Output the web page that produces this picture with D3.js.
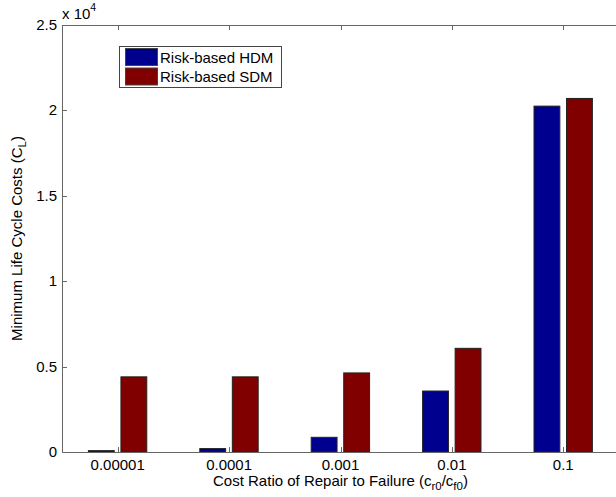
<!DOCTYPE html>
<html>
<head>
<meta charset="utf-8">
<script src="https://cdn.jsdelivr.net/npm/d3@7"></script>
<style>
  body { margin: 0; background: #fff; }
  svg { display: block; }
  text { font-family: "Liberation Sans", Arial, sans-serif; fill: #000; }
</style>
</head>
<body>
<svg id="svg"></svg>
<script>

const width = 616;
const height = 497;

// data (values in raw units, axis shows x 10^4)
const categories = ["0.00001", "0.0001", "0.001", "0.01", "0.1"];
const seriesNames = ["Risk-based HDM", "Risk-based SDM"];
const hdmValues = [80, 200, 860, 3570, 20250];
const sdmValues = [4400, 4400, 4630, 6070, 20700];
const yTicks = [0, 0.5, 1, 1.5, 2, 2.5];

const colors = ["#00008f", "#800000"];
const axisColor = "#666";
const fontSize = "15px";

const margin = { left: 62, top: 25, bottom: 452 };
const plotRight = 619;

const svg = d3.select("#svg")
	.attr("width", width)
	.attr("height", height);

const x = d3.scaleLinear()
	.domain([0.5, categories.length + 0.5])
	.range([margin.left, plotRight]);

const y = d3.scaleLinear()
	.domain([0, 2.5])
	.range([margin.bottom, margin.top]);

const barWidth = 0.232;
const offsets = [-0.147, 0.145];
const series = [hdmValues, sdmValues];

// bars
series.forEach(function(vals, s) {
	svg.append("g")
		.selectAll("rect")
		.data(vals)
		.enter().append("rect")
		.attr("x", (d, i) => x(i + 1 + offsets[s] - barWidth / 2))
		.attr("width", x(barWidth) - x(0))
		.attr("y", d => y(d / 1e4))
		.attr("height", d => y(0) - y(d / 1e4))
		.style("fill", colors[s])
		.style("stroke", "#222")
		.style("stroke-width", 1);
});

// axes (matlab style: ticks inside, box on)
const axisG = svg.append("g");

axisG.append("line")
	.attr("x1", margin.left).attr("x2", width)
	.attr("y1", margin.bottom + 0.5).attr("y2", margin.bottom + 0.5)
	.style("stroke", axisColor);
axisG.append("line")
	.attr("x1", margin.left).attr("x2", width)
	.attr("y1", margin.top + 0.5).attr("y2", margin.top + 0.5)
	.style("stroke", axisColor);
axisG.append("line")
	.attr("x1", margin.left + 0.5).attr("x2", margin.left + 0.5)
	.attr("y1", margin.top).attr("y2", margin.bottom + 1)
	.style("stroke", axisColor);

// x ticks
categories.forEach(function(c, i) {
	const px = Math.round(x(i + 1)) + 0.5;
	axisG.append("line")
		.attr("x1", px).attr("x2", px)
		.attr("y1", margin.bottom).attr("y2", margin.bottom - 5)
		.style("stroke", axisColor);
	axisG.append("line")
		.attr("x1", px).attr("x2", px)
		.attr("y1", margin.top).attr("y2", margin.top + 5)
		.style("stroke", axisColor);
	axisG.append("text")
		.attr("x", x(i + 1))
		.attr("y", 470)
		.attr("text-anchor", "middle")
		.style("font-size", fontSize)
		.text(c);
});

// y ticks
yTicks.forEach(function(t) {
	const py = Math.round(y(t)) + 0.5;
	axisG.append("line")
		.attr("x1", margin.left).attr("x2", margin.left + 5)
		.attr("y1", py).attr("y2", py)
		.style("stroke", axisColor);
	axisG.append("text")
		.attr("x", 57)
		.attr("y", y(t) + 5)
		.attr("text-anchor", "end")
		.style("font-size", fontSize)
		.text(t);
});

// exponent label
const expo = svg.append("text")
	.attr("x", 62)
	.attr("y", 19)
	.style("font-size", fontSize);
expo.append("tspan").text("x 10");
expo.append("tspan").attr("dy", -8).style("font-size", "10.5px").text("4");

// x axis label
const xl = svg.append("text")
	.attr("x", (margin.left + plotRight) / 2)
	.attr("y", 486)
	.attr("text-anchor", "middle")
	.style("font-size", fontSize);
xl.append("tspan").text("Cost Ratio of Repair to Failure (c");
xl.append("tspan").attr("dy", 4).style("font-size", "11.5px").text("r0");
xl.append("tspan").attr("dy", -4).text("/c");
xl.append("tspan").attr("dy", 4).style("font-size", "11.5px").text("f0");
xl.append("tspan").attr("dy", -4).text(")");

// y axis label
const yl = svg.append("text")
	.attr("transform", `translate(22, ${(margin.top + margin.bottom) / 2}) rotate(-90)`)
	.attr("text-anchor", "middle")
	.style("font-size", fontSize);
yl.append("tspan").text("Minimum Life Cycle Costs (C");
yl.append("tspan").attr("dy", 4).style("font-size", "11.5px").text("L");
yl.append("tspan").attr("dy", -4).text(")");

// legend
const legend = svg.append("g");
legend.append("rect")
	.attr("x", 119.5).attr("y", 46.5)
	.attr("width", 162).attr("height", 41)
	.style("fill", "#fff")
	.style("stroke", "#444");

seriesNames.forEach(function(name, i) {
	legend.append("rect")
		.attr("x", 125.5).attr("y", 48.5 + i * 19.5)
		.attr("width", 32).attr("height", 17)
		.style("fill", colors[i])
		.style("stroke", "#444");
	legend.append("text")
		.attr("x", 160)
		.attr("y", 62.5 + i * 19.5)
		.style("font-size", fontSize)
		.text(name);
});

</script>
</body>
</html>
